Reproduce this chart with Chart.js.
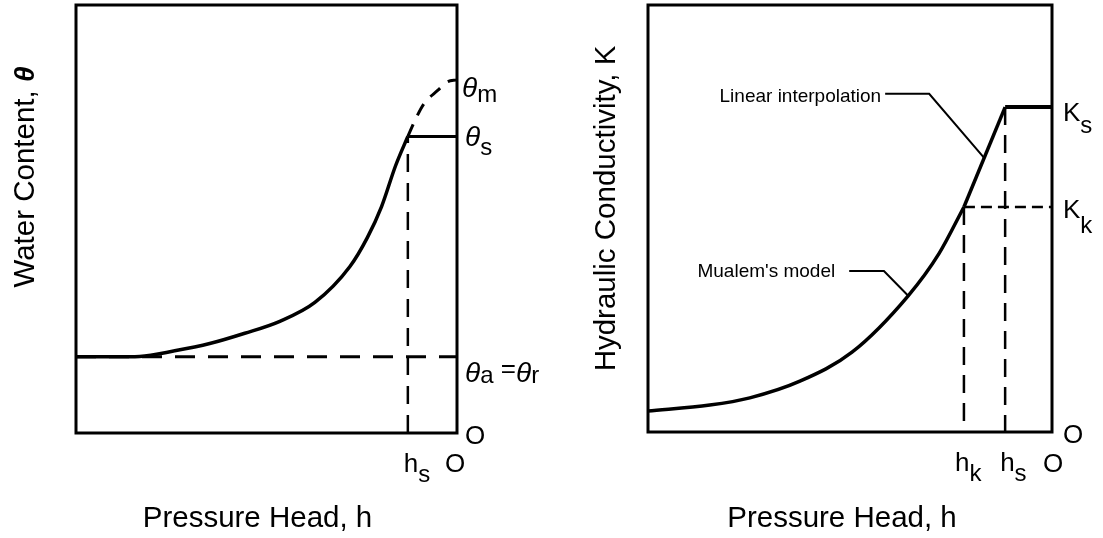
<!DOCTYPE html>
<html>
<head>
<meta charset="utf-8">
<script src="https://cdn.jsdelivr.net/npm/chart.js@4.4.0/dist/chart.umd.min.js"></script>
<style>
  body { margin: 0; background: #fff; }
  .wrap { position: relative; width: 1103px; height: 538px; }
  canvas { position: absolute; left: 0; top: 0; }
</style>
</head>
<body>
<div class="wrap">
  <canvas id="waterChart" width="1103" height="538"></canvas>
  <canvas id="condChart" width="1103" height="538"></canvas>
</div>
<script>
// pressure head runs from -100 (left) to 0 (right), values are relative units 0..100

// left panel - water content
const retentionH = [-100, -90, -83.3, -74.1, -64.9, -55.7, -46.5, -37.3, -28.1, -23.5, -19.8, -16.1, -12.9];
const retentionTheta = [17.8, 17.8, 17.9, 19.2, 20.9, 23.3, 26.1, 30.5, 38.9, 45.7, 52.9, 62.5, 69.3];
const extrapH = [-12.9, -11.0, -8.7, -5.0, -2.6, 0];
const extrapTheta = [69.3, 73.1, 76.9, 80.1, 82.0, 82.5];
const hS1 = -12.9;
const thetaS = 69.3;
const thetaR = 17.8;
const thetaM = 82.5;

// right panel - hydraulic conductivity
const mualemH = [-100, -84.7, -74.8, -62.4, -49.5, -35.6, -27.9, -21.8];
const mualemK = [4.9, 6.3, 8.0, 11.9, 18.7, 31.9, 41.9, 52.7];
const hK = -21.8;
const hS2 = -11.6;
const kK = 52.7;
const kS = 76.1;
const linearLeaderH = [-41.3, -30.4, -16.8];
const linearLeaderK = [79.2, 79.2, 64.2];
const mualemLeaderH = [-50.2, -41.6, -35.6];
const mualemLeaderK = [37.7, 37.7, 31.9];

const FONT = '"Liberation Sans", Arial, Helvetica, sans-serif';
const F = {
  title: '29.5px ' + FONT,
  titleGreek: 'italic bold 28px ' + FONT,
  greek: 'italic 28px ' + FONT,
  sym: '26px ' + FONT,
  sub: '24px ' + FONT,
  zero: '26px ' + FONT,
  note: '19px ' + FONT
};

function seg(xs, ys, opts) {
  return Object.assign({
    data: xs.map((x, i) => ({ x: x, y: ys[i] })),
    borderColor: '#000',
    borderWidth: 3,
    pointRadius: 0,
    fill: false,
    clip: false,
    tension: 0
  }, opts || {});
}

function drawRich(ctx, x, y, parts, align, rotate) {
  ctx.save();
  ctx.translate(x, y);
  if (rotate) ctx.rotate(rotate);
  ctx.fillStyle = '#000';
  ctx.textBaseline = 'alphabetic';
  let w = 0;
  parts.forEach(p => { ctx.font = F[p[1]]; w += ctx.measureText(p[0]).width; });
  let cx = align === 'center' ? -w / 2 : (align === 'right' ? -w : 0);
  parts.forEach(p => {
    ctx.font = F[p[1]];
    ctx.fillText(p[0], cx, p[2] || 0);
    cx += ctx.measureText(p[0]).width;
  });
  ctx.restore();
}

// box around the plot area
const framePlugin = {
  id: 'frame',
  afterDatasetsDraw(chart) {
    const a = chart.chartArea;
    const ctx = chart.ctx;
    ctx.save();
    ctx.strokeStyle = '#000';
    ctx.lineWidth = 3;
    ctx.strokeRect(a.left, a.top, a.right - a.left, a.bottom - a.top);
    ctx.restore();
  }
};

// text labels anchored on data values, with pixel offsets
const textPlugin = {
  id: 'texts',
  afterDraw(chart, args, opts) {
    const sx = chart.scales.x, sy = chart.scales.y;
    (opts.items || []).forEach(it => {
      const px = sx.getPixelForValue(it.at[0]) + (it.dx || 0);
      const py = sy.getPixelForValue(it.at[1]) + (it.dy || 0);
      drawRich(chart.ctx, px, py, it.parts, it.align, it.rotate);
    });
  }
};

function baseOptions(pad, items) {
  return {
    responsive: false,
    animation: false,
    events: [],
    layout: { padding: pad },
    scales: {
      x: { type: 'linear', min: -100, max: 0, display: false },
      y: { type: 'linear', min: 0, max: 100, display: false }
    },
    plugins: {
      legend: { display: false },
      tooltip: { enabled: false },
      texts: { items: items }
    }
  };
}

new Chart(document.getElementById('waterChart'), {
  type: 'line',
  data: {
    datasets: [
      seg([-100, 0], [thetaR, thetaR], { borderWidth: 3, borderDash: [20, 13] }),
      seg([hS1, hS1], [0, thetaS], { borderWidth: 2.5, borderDash: [18, 11] }),
      seg([hS1, 0], [thetaS, thetaS], { borderWidth: 3 }),
      seg(extrapH, extrapTheta, { borderWidth: 3, borderDash: [13, 10], cubicInterpolationMode: 'monotone' }),
      seg(retentionH, retentionTheta, { borderWidth: 3.5, cubicInterpolationMode: 'monotone' })
    ]
  },
  options: baseOptions({ left: 76, right: 1103 - 457, top: 5, bottom: 538 - 433 }, [
    { at: [0, thetaM], dx: 5, dy: 17, parts: [['θ', 'greek'], ['m', 'sub', 5]] },
    { at: [0, thetaS], dx: 8, dy: 10, parts: [['θ', 'greek'], ['s', 'sub', 9]] },
    { at: [0, thetaR], dx: 8, dy: 25, parts: [['θ', 'greek'], ['a', 'sub', 1], [' =', 'sym', -5], ['θ', 'greek'], ['r', 'sub', 1]] },
    { at: [0, 0], dx: 8, dy: 11, parts: [['O', 'zero']] },
    { at: [hS1, 0], dx: -4, dy: 39, parts: [['h', 'sym'], ['s', 'sub', 10]] },
    { at: [0, 0], dx: -12, dy: 39, parts: [['O', 'zero']] },
    { at: [-50, 0], dx: -9, dy: 94, align: 'center', parts: [['Pressure Head, h', 'title']] },
    { at: [-100, 50], dx: -42, dy: -42, align: 'center', rotate: -Math.PI / 2,
      parts: [['Water Content, ', 'title'], ['θ', 'titleGreek']] }
  ])
,  plugins: [framePlugin, textPlugin]
});

new Chart(document.getElementById('condChart'), {
  type: 'line',
  data: {
    datasets: [
      seg([hK, 0], [kK, kK], { borderWidth: 2.5, borderDash: [11, 6] }),
      seg([hK, hK], [kK, 0], { borderWidth: 2.5, borderDash: [18, 10] }),
      seg([hS2, hS2], [kS, 0], { borderWidth: 2.5, borderDash: [18, 10] }),
      seg([hK, hS2], [kK, kS], { borderWidth: 3.5 }),
      seg([hS2, 0], [kS, kS], { borderWidth: 4 }),
      seg(mualemH, mualemK, { borderWidth: 3.5, cubicInterpolationMode: 'monotone' }),
      seg(linearLeaderH, linearLeaderK, { borderWidth: 2 }),
      seg(mualemLeaderH, mualemLeaderK, { borderWidth: 2 })
    ]
  },
  options: baseOptions({ left: 648, right: 1103 - 1052, top: 5, bottom: 538 - 432 }, [
    { at: [0, kS], dx: 11, dy: 14, parts: [['K', 'sym'], ['s', 'sub', 12]] },
    { at: [0, kK], dx: 11, dy: 11, parts: [['K', 'sym'], ['k', 'sub', 15]] },
    { at: [0, 0], dx: 11, dy: 11, parts: [['O', 'zero']] },
    { at: [hK, 0], dx: -9, dy: 39, parts: [['h', 'sym'], ['k', 'sub', 10]] },
    { at: [hS2, 0], dx: -5, dy: 39, parts: [['h', 'sym'], ['s', 'sub', 10]] },
    { at: [0, 0], dx: -9, dy: 40, parts: [['O', 'zero']] },
    { at: [linearLeaderH[0], linearLeaderK[0]], dx: -4, dy: 8, align: 'right', parts: [['Linear interpolation', 'note']] },
    { at: [mualemLeaderH[0], mualemLeaderK[0]], dx: -14, dy: 6, align: 'right', parts: [["Mualem's model", 'note']] },
    { at: [-50, 0], dx: -8, dy: 95, align: 'center', parts: [['Pressure Head, h', 'title']] },
    { at: [-100, 50], dx: -33, dy: -10, align: 'center', rotate: -Math.PI / 2,
      parts: [['Hydraulic Conductivity, K', 'title']] }
  ]),
  plugins: [framePlugin, textPlugin]
});
</script>
</body>
</html>
